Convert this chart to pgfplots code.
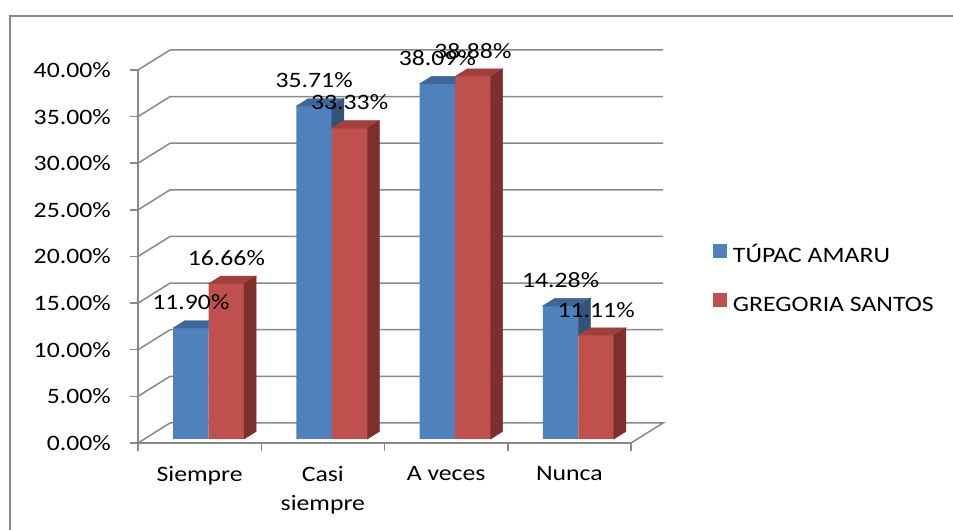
\documentclass[border=0pt]{standalone}
\usepackage{pgfplots}
\pgfplotsset{compat=1.18}
\usepackage{pgfplotstable}
\usepackage{fontspec}
\setmainfont{Carlito}[FakeStretch=1.17]
\definecolor{bluef}{HTML}{4F81BD}
\definecolor{bluet}{HTML}{3E6698}
\definecolor{blues}{HTML}{34527A}
\definecolor{redf}{HTML}{C0504D}
\definecolor{redt}{HTML}{A03F3C}
\definecolor{reds}{HTML}{7E2F2D}
\definecolor{gridc}{HTML}{898989}
\pgfdeclareplotmark{nomark}{}
\pgfplotstableread{
x tupac gregoria
0 11.90 16.66
1 35.71 33.33
2 38.09 38.88
3 14.28 11.11
}\datatable
\newcommand\chartfont{\fontsize{22}{29}\selectfont}
\pgfplotsset{
  % top and side faces of the red (rear-right) bars
  redfaces/.style={%
    forget plot, only marks, mark=nomark, scatter,
    visualization depends on={rawy \as \val},
    scatter/@pre marker code/.code={%
      \fill[redt] (9pt,4pt) -- (44.5pt,4pt) -- (56.5pt,11.5pt) -- (21pt,11.5pt) -- cycle;
      \fill[reds] (44.5pt,4pt) -- (56.5pt,11.5pt) -- (56.5pt,{(11.5-\val*9.325)*1pt}) -- (44.5pt,{(4-\val*9.325)*1pt}) -- cycle;
    },
    scatter/@post marker code/.code={},
  },
  % top and visible side of the blue bars (side only above the neighbouring red bar)
  bluefaces/.style={%
    forget plot, only marks, mark=nomark, scatter,
    visualization depends on={rawy \as \val},
    visualization depends on={\thisrow{gregoria} \as \other},
    scatter/@pre marker code/.code={%
      \pgfmathsetmacro\dh{(\other-\val)*9.325}%
      \ifdim\dh pt<0pt
        \fill[bluet] (-26.5pt,4pt) -- (9pt,4pt) -- (21pt,11.5pt) -- (-14.5pt,11.5pt) -- cycle;
        \fill[blues] (9pt,4pt) -- (21pt,11.5pt) -- (21pt,{(11.5+\dh)*1pt}) -- (9pt,{(4+\dh)*1pt}) -- cycle;
      \else
        \fill[bluet] (-26.5pt,4pt) -- (9pt,4pt) -- (9pt,11.5pt) -- (-14.5pt,11.5pt) -- cycle;
      \fi
    },
    scatter/@post marker code/.code={},
  },
  frontbar/.style={ybar, bar width=35.5pt, bar shift=#1, draw=none, yshift=4pt,
    nodes near coords={\pgfmathprintnumber[fixed,fixed zerofill,precision=2]{\pgfplotspointmeta}\%},
    every node near coord/.append style={font=\chartfont, inner sep=0pt, xshift=#1, yshift=18pt, text=black}},
}
\begin{document}
\begin{tikzpicture}[x=1pt,y=1pt]
\useasboundingbox (0,0) rectangle (953,530);
\draw[gridc, line width=1.5pt] (10,-20) -- (10,514) -- (990,514);
\begin{axis}[
  at={(138pt,87pt)}, anchor=south west,
  x=123.25pt, y=9.325pt,
  xmin=-0.5, xmax=3.5, ymin=0, ymax=40,
  clip=false,
  axis x line*=bottom, axis y line*=left,
  axis line style={gridc, line width=1.5pt, -},
  tick style={gridc, line width=1.5pt},
  tick align=outside, major tick length=8pt,
  ytick={0,5,...,40},
  yticklabels={0.00\%,5.00\%,10.00\%,15.00\%,20.00\%,25.00\%,30.00\%,35.00\%,40.00\%},
  yticklabel style={font=\chartfont, inner sep=0pt, anchor=east, xshift=-19pt},
  xtick={-0.5,0.5,1.5,2.5,3.5},
  xticklabels={},
  extra x ticks={0,1,2,3},
  extra x tick labels={Siempre,{Casi\\siempre},A veces,Nunca},
  extra x tick style={major tick length=0pt},
  xticklabel style={font=\chartfont, align=center, inner sep=0pt, anchor=north, yshift=-23pt},
  /pgf/number format/assume math mode=true,
  legend style={at={(1.1663,0.4437)}, anchor=west, draw=none, fill=none,
    inner sep=0pt, outer sep=0pt, row sep=30pt, column sep=6pt, font=\chartfont,
    nodes={inner sep=0pt, text height=15pt, text depth=0pt}},
  legend cell align=left,
]
\pgfplotsinvokeforeach{5,10,15,20,25,30,35,40}{
  \draw[gridc, line width=1.5pt] (axis cs:-0.5,#1) -- ++(32pt,20pt) -- ([shift={(32pt,20pt)}]axis cs:3.5,#1);
}
\draw[gridc, line width=1.5pt] (axis cs:-0.5,0) -- ++(32pt,20pt) -- ([shift={(32pt,20pt)}]axis cs:3.5,0) -- (axis cs:3.5,0);

\addplot[frontbar=-8.75pt, fill=bluef,
  legend image code/.code={\fill[bluef] (0pt,-7pt) rectangle (14pt,7pt);}]
  table[x=x,y=tupac]{\datatable};
\addlegendentry{TÚPAC AMARU}
\addplot[bluefaces] table[x=x,y=tupac]{\datatable};

\addplot[frontbar=26.75pt, fill=redf,
  legend image code/.code={\fill[redf] (0pt,-7pt) rectangle (14pt,7pt);}]
  table[x=x,y=gregoria]{\datatable};
\addlegendentry{GREGORIA SANTOS}
\addplot[redfaces] table[x=x,y=gregoria]{\datatable};
\end{axis}
\end{tikzpicture}
\end{document}
